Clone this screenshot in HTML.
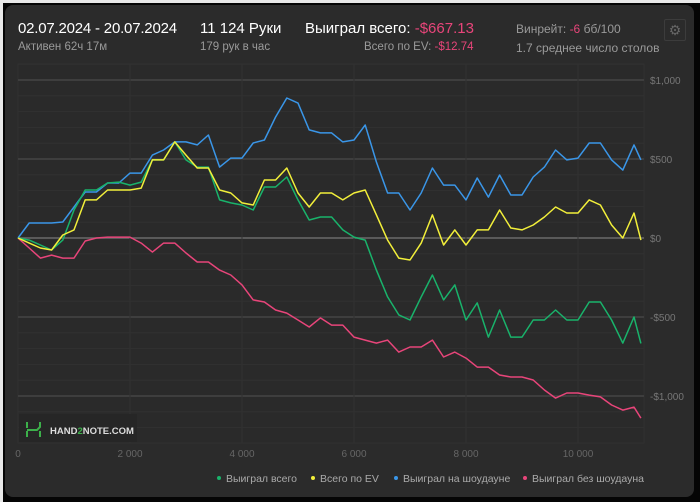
<!DOCTYPE html>
<html><head><meta charset="utf-8"><style>
html,body{margin:0;padding:0;width:700px;height:502px;overflow:hidden;background:#e8e8e8;font-family:"Liberation Sans","Noto Sans CJK SC",sans-serif;}
#frame{position:absolute;left:3px;top:3px;width:697px;height:499px;background:#050505;}
#card{position:absolute;left:5px;top:5px;width:689px;height:492px;background:#2b2b2b;border-radius:8px;overflow:hidden;}
.t{position:absolute;white-space:nowrap;}
</style></head><body>
<div id="frame"></div>
<div id="card">
  <div class="t" style="left:13px;top:15px;font-size:15px;color:#fff;letter-spacing:-0.2px;">02.07.2024 - 20.07.2024</div>
  <div class="t" style="left:13px;top:36px;font-size:11.5px;color:#9a9a9a;">Активен 62ч 17м</div>
  <div class="t" style="left:195px;top:15px;font-size:15px;color:#fff;">11 124 Руки</div>
  <div class="t" style="left:195px;top:36px;font-size:11.5px;color:#9a9a9a;">179 рук в час</div>
  <div class="t" style="left:300px;top:15px;font-size:15px;color:#fff;">Выиграл всего: <span style="color:#e8457a">-$667.13</span></div>
  <div class="t" style="left:359px;top:36px;font-size:11.5px;color:#9a9a9a;">Всего по EV: <span style="color:#e8457a">-$12.74</span></div>
  <div class="t" style="left:511px;top:17px;font-size:12px;color:#9a9a9a;">Винрейт: <span style="color:#e8457a">-6</span> бб/100</div>
  <div class="t" style="left:511px;top:36px;font-size:12px;color:#9a9a9a;">1.7 среднее число столов</div>
  <div style="position:absolute;left:659px;top:14px;width:20px;height:20px;border:1px solid #3c3c3c;border-radius:2px;color:#666;font-size:14px;line-height:20px;text-align:center;">⚙</div>
</div>
<svg id="chart" width="700" height="502" style="position:absolute;left:0;top:0;"></svg>
<script>
const hands=[0,200,400,600,800,1000,1200,1400,1600,1800,2000,2200,2400,2600,2800,3000,3200,3400,3600,3800,4000,4200,4400,4600,4800,5000,5200,5400,5600,5800,6000,6200,6400,6600,6800,7000,7200,7400,7600,7800,8000,8200,8400,8600,8800,9000,9200,9400,9600,9800,10000,10200,10400,10600,10800,11000,11124];
const wonTotal=[0,-13,-44,-76,-13,177,304,304,348,354,335,354,494,494,608,494,449,449,241,222,209,177,323,323,386,241,114,133,133,51,6,-13,-203,-373,-487,-519,-373,-234,-392,-297,-519,-411,-627,-456,-627,-627,-519,-519,-456,-519,-519,-405,-405,-519,-665,-500,-667];
const wonEV=[0,-32,-63,-76,19,51,241,241,304,304,304,316,494,494,608,525,443,443,304,285,222,209,367,367,443,285,196,285,285,241,285,304,146,-13,-127,-139,-32,146,-44,51,-44,51,51,177,63,51,82,133,196,158,158,241,209,82,0,158,-13];
const wonShowdown=[0,95,95,95,101,196,291,291,348,348,411,411,525,557,608,608,589,652,449,506,506,601,620,766,886,854,684,665,665,608,620,715,481,285,285,177,285,443,335,335,241,380,259,399,272,272,386,449,557,494,506,601,601,494,430,589,494];
const wonNonShowdown=[0,-63,-127,-108,-127,-127,-19,0,6,6,6,-32,-89,-32,-32,-95,-152,-152,-203,-234,-297,-392,-405,-456,-475,-519,-563,-506,-551,-551,-627,-646,-665,-646,-722,-690,-690,-646,-753,-722,-760,-817,-817,-867,-880,-880,-899,-962,-1013,-981,-981,-994,-1006,-1057,-1089,-1070,-1140];
const xTicks=[0,2000,4000,6000,8000,10000];
const xTickLabels=["0","2 000","4 000","6 000","8 000","10 000"];
const yTicks=[1000,500,0,-500,-1000];
const yTickLabels=["$1,000","$500","$0","-$500","-$1,000"];
const seriesNames=["Выиграл всего","Всего по EV","Выиграл на шоудауне","Выиграл без шоудауна"];

const NS="http://www.w3.org/2000/svg";
const svg=document.getElementById('chart');
const X0=18,X1=644,Y0=64,Y1=443;
function xs(h){return X0+h/1000*56;}
function ys(v){return 238-v*0.158;}
function mk(tag,attrs){const e=document.createElementNS(NS,tag);for(const k in attrs)e.setAttribute(k,attrs[k]);svg.appendChild(e);return e;}

const bg=mk('rect',{x:X0,y:Y0,width:X1-X0,height:Y1-Y0,fill:'#2a2a2a',stroke:'#303030'});


for(let v=-1300;v<=1100;v+=100){
  const y=ys(v); if(y<Y0||y>Y1)continue;
  const major=v%500===0;
  const g=mk('line',{x1:X0,x2:X1,y1:y,y2:y,stroke:major?(v===0?'#6a6a6a':'#444'):'#313131','stroke-width':major?1.5:1});
  
  
}
for(const h of xTicks){
  if(h===0)continue;
  const g=mk('line',{x1:xs(h),x2:xs(h),y1:Y0,y2:Y1,stroke:'#313131','stroke-width':1});
  
  
}
xTicks.forEach((h,i)=>{
  const t=mk('text',{x:xs(h),y:457,fill:'#666','font-size':10,'text-anchor':'middle','font-family':'Liberation Sans, sans-serif'});
  t.textContent=xTickLabels[i];
  
  
});
yTicks.forEach((v,i)=>{
  const t=mk('text',{x:650,y:ys(v)+4,fill:'#777','font-size':10,'font-family':'Liberation Sans, sans-serif'});
  t.textContent=yTickLabels[i];
  
  
});
const wm=mk('rect',{x:19,y:414,width:118,height:28,fill:'#262626'});


const logo=mk('path',{d:'M27 422 v6 M27 430 h10 l3 -3 v-5 M40 431 v6 M27 431 v6',stroke:'#3cb04a','stroke-width':2,fill:'none'});


const wt=mk('text',{x:50,y:434,fill:'#ddd','font-size':9.5,'font-weight':'bold','font-family':'Liberation Sans, sans-serif'});
wt.innerHTML='HAND<tspan fill="#3cb04a">2</tspan>NOTE.COM';



const colors=['#19b36b','#f2ef3a','#3a96e8','#e8457a'];
const series=[wonTotal,wonEV,wonShowdown,wonNonShowdown];
const lineNames=['line-won-total','line-won-ev','line-won-showdown','line-won-non-showdown'];
[3,2,0,1].forEach(k=>{
  const pts=hands.map((h,i)=>xs(h).toFixed(1)+','+ys(series[k][i]).toFixed(1)).join(' ');
  const pl=mk('polyline',{points:pts,fill:'none',stroke:colors[k],'stroke-width':1.5,'stroke-linejoin':'round'});
  
  
});
const legX=[219,313,396,525];
seriesNames.forEach((n,i)=>{
  const c=mk('circle',{cx:legX[i],cy:478,r:2,fill:colors[i]});
  
  
  const t=mk('text',{x:legX[i]+7,y:482,fill:'#aaa','font-size':10.5,'font-family':'Liberation Sans, sans-serif'});
  t.textContent=n;
  
  
});
</script>
</body></html>
